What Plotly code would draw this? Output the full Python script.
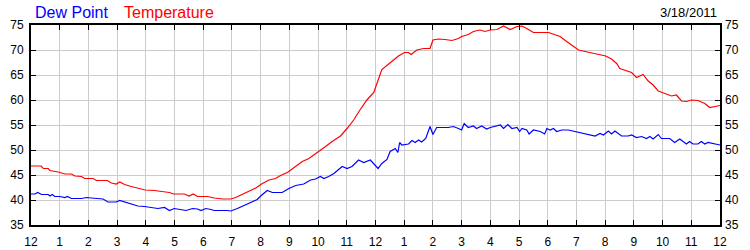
import plotly.graph_objects as go

# Hours since midnight and readings
temp_hours = [0.0, 0.35, 0.43, 0.6, 0.66, 0.95, 1.18, 1.41, 1.53, 1.76, 1.87, 2.16, 2.28, 2.66, 2.8, 2.97,
              3.09, 3.26, 3.49, 3.72, 3.98, 4.3, 4.53, 4.82, 4.97, 5.34, 5.51, 5.65, 5.8, 6.15, 6.38, 6.67,
              6.96, 7.13, 7.42, 7.65, 7.83, 8.06, 8.29, 8.52, 8.69, 8.93, 9.02, 9.22, 9.45, 9.68, 9.85,
              10.03, 10.26, 10.49, 10.78, 11.01, 11.24, 11.47, 11.7, 11.94, 12.11, 12.22, 12.46, 12.63,
              12.8, 13.01, 13.15, 13.24, 13.44, 13.67, 13.9, 14.0, 14.19, 14.42, 14.66, 14.89, 15.0,
              15.23, 15.41, 15.64, 15.81, 16.0, 16.23, 16.46, 16.69, 16.93, 17.1, 17.27, 17.5, 18.03,
              18.2, 18.43, 18.66, 18.89, 19.07, 19.3, 19.59, 19.82, 20.02, 20.22, 20.4, 20.51, 20.69,
              20.92, 21.09, 21.32, 21.5, 21.67, 21.85, 22.08, 22.31, 22.48, 22.66, 22.83, 23.0, 23.23,
              23.47, 23.64, 23.81, 24.0]
temperature = [46.8, 46.8, 46.3, 46.3, 45.9, 45.6, 45.2, 45.2, 44.8, 44.7, 44.3, 44.3, 43.9, 43.9, 43.4, 43.2,
               43.6, 43.1, 42.7, 42.3, 42.0, 41.9, 41.7, 41.5, 41.2, 41.2, 40.8, 41.2, 40.7, 40.7, 40.4, 40.2,
               40.2, 40.5, 41.3, 41.9, 42.4, 43.3, 44.0, 44.3, 44.9, 45.5, 45.9, 46.7, 47.7, 48.3, 49.0,
               49.6, 50.7, 51.7, 52.8, 54.3, 56.0, 58.1, 60.0, 61.5, 64.3, 66.1, 67.2, 68.0,
               68.8, 69.5, 69.5, 69.1, 70.0, 70.3, 70.3, 72.0, 72.2, 72.1, 71.9, 72.3, 72.7,
               73.1, 73.7, 74.0, 73.7, 74.0, 74.1, 74.8, 74.1, 74.7, 74.8, 74.3, 73.5, 73.5,
               73.1, 72.7, 71.7, 70.7, 70.0, 69.7, 69.3, 69.1, 68.8, 68.2, 67.3, 66.3, 66.0,
               65.5, 64.5, 65.1, 63.8, 63.0, 61.8, 61.3, 60.8, 61.0, 59.8, 59.7, 60.0, 59.9,
               59.3, 58.5, 58.7, 58.9]

dew_hours = [0.0, 0.14, 0.23, 0.37, 0.6, 0.66, 0.74, 0.83, 1.01, 1.18, 1.26, 1.41, 1.76, 1.93, 2.1, 2.34,
             2.51, 2.68, 2.97, 3.09, 3.26, 3.43, 3.72, 3.95, 4.18, 4.42, 4.65, 4.82, 4.99, 5.23, 5.4,
             5.63, 5.8, 5.92, 6.09, 6.27, 6.38, 6.84, 6.96, 7.19, 7.42, 7.65, 7.88, 8.0, 8.23, 8.41,
             8.75, 8.98, 9.22, 9.5, 9.74, 9.91, 10.08, 10.2, 10.37, 10.55, 10.84, 11.01, 11.18, 11.41,
             11.59, 11.82, 12.09, 12.22, 12.4, 12.51, 12.69, 12.78, 12.84, 12.92, 13.15, 13.27, 13.38,
             13.5, 13.61, 13.75, 13.9, 14.0, 14.13, 14.54, 14.71, 14.89, 15.0, 15.09, 15.23, 15.41,
             15.52, 15.7, 15.87, 16.0, 16.17, 16.35, 16.46, 16.61, 16.75, 16.93, 17.02, 17.1, 17.27,
             17.35, 17.5, 17.74, 17.89, 17.97, 18.08, 18.2, 18.31, 18.49, 18.72, 18.95, 19.18, 19.41,
             19.65, 19.82, 19.94, 20.11, 20.22, 20.34, 20.57, 20.8, 20.92, 21.09, 21.27, 21.44, 21.56,
             21.67, 21.85, 21.96, 22.25, 22.42, 22.6, 22.83, 22.94, 23.06, 23.23, 23.35, 23.47, 23.58,
             23.81, 24.0]
dew_point = [41.2, 41.2, 41.5, 41.1, 41.1, 40.8, 41.1, 40.7, 40.7, 40.5, 40.7, 40.3, 40.3, 40.5, 40.4, 40.2,
             40.2, 39.6, 39.6, 39.9, 39.6, 39.2, 38.8, 38.7, 38.5, 38.3, 38.5, 37.9, 38.3, 38.1, 37.9,
             38.3, 38.2, 37.9, 38.3, 38.1, 37.9, 37.9, 37.8, 38.3, 38.9, 39.5, 40.1, 40.8, 41.9, 41.5,
             41.5, 42.3, 42.9, 43.2, 44.0, 44.2, 44.7, 44.3, 44.7, 45.3, 46.7, 46.3, 46.7, 48.0,
             47.5, 48.0, 46.3, 47.3, 48.1, 49.7, 50.3, 49.5, 51.5, 51.0, 51.2, 51.9, 51.5,
             52.0, 51.6, 52.3, 54.7, 53.1, 54.5, 54.5, 54.7, 54.3, 54.0, 55.3, 54.5, 54.8,
             54.3, 54.8, 54.2, 54.5, 54.8, 55.0, 54.3, 55.1, 54.3, 54.5, 53.7, 54.3, 54.0,
             53.2, 54.0, 53.7, 53.2, 54.3, 54.0, 54.3, 53.7, 54.0, 54.0, 53.7, 53.3, 53.0,
             52.8, 53.3, 53.0, 53.8, 53.2, 53.8, 52.8, 52.8, 53.0, 52.5, 52.7, 52.3, 52.7,
             52.2, 53.1, 52.3, 52.3, 51.5, 52.2, 51.2, 51.7, 51.2, 51.2, 51.7, 51.2, 51.5,
             51.3, 51.0]

hour_ticks = list(range(0, 25))
hour_labels = ["12", "1", "2", "3", "4", "5", "6", "7", "8", "9", "10", "11",
               "12", "1", "2", "3", "4", "5", "6", "7", "8", "9", "10", "11", "12"]
y_ticks = [35, 40, 45, 50, 55, 60, 65, 70, 75]
date_label = "3/18/2011"

FONT = "Liberation Sans, Arial, sans-serif"

fig = go.Figure()
fig.add_trace(go.Scatter(x=temp_hours, y=temperature, mode="lines", name="Temperature",
                         line=dict(color="#ff0000", width=1.2), hoverinfo="skip"))
fig.add_trace(go.Scatter(x=dew_hours, y=dew_point, mode="lines", name="Dew Point", yaxis="y2",
                         line=dict(color="#0000ff", width=1.2), hoverinfo="skip"))

axis_common = dict(showline=True, linecolor="black", linewidth=2, ticks="inside", ticklen=5,
                   tickcolor="black", tickwidth=1, zeroline=False, automargin=False,
                   tickfont=dict(family=FONT, size=12, color="black"))

fig.update_layout(
    width=750, height=250,
    margin=dict(l=31, r=30, t=25, b=25),
    paper_bgcolor="white", plot_bgcolor="white",
    showlegend=False,
    xaxis=dict(range=[0, 24], tickvals=hour_ticks, ticktext=hour_labels, mirror="ticks",
               showgrid=True, gridcolor="#cccccc", gridwidth=1, ticklabelstandoff=5,
               **axis_common),
    yaxis=dict(range=[35, 75], tickvals=y_ticks, mirror="ticks", showgrid=True,
               gridcolor="#cccccc", gridwidth=1, ticklabelstandoff=3, **axis_common),
    yaxis2=dict(range=[35, 75], tickvals=y_ticks, overlaying="y", side="right",
                showgrid=False, showline=False, ticks="", zeroline=False, ticklabelstandoff=4,
                automargin=False,
                tickfont=dict(family=FONT, size=12, color="black")),
    annotations=[
        dict(text="Dew Point", xref="paper", yref="paper", x=(33 - 31) / 689, y=(225 - 12) / 200,
             xanchor="left", yanchor="middle", showarrow=False,
             font=dict(family=FONT, size=16, color="#0000ff")),
        dict(text="Temperature", xref="paper", yref="paper", x=(122 - 31) / 689, y=(225 - 12) / 200,
             xanchor="left", yanchor="middle", showarrow=False,
             font=dict(family=FONT, size=16, color="#ff0000")),
        dict(text=date_label, xref="paper", yref="paper", x=(719 - 31) / 689, y=(225 - 12) / 200,
             xanchor="right", yanchor="middle", showarrow=False,
             font=dict(family=FONT, size=13, color="black")),
    ],
)

fig.write_html("out.html")
